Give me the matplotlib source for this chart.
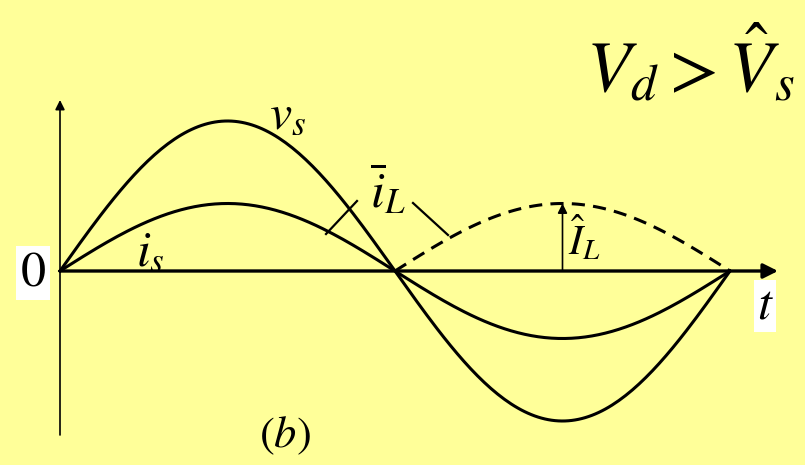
import numpy as np
import matplotlib.pyplot as plt

plt.rcParams['mathtext.fontset'] = 'stix'
plt.rcParams['font.family'] = 'Liberation Serif'

# waveform amplitudes (relative to v_s peak)
vs_amp = 1.0
is_amp = 0.45
theta = np.linspace(0, 2 * np.pi, 200)
vs = vs_amp * np.sin(theta)
i_s = is_amp * np.sin(theta)
theta_neg = np.linspace(np.pi, 2 * np.pi, 100)
il_dash = -is_amp * np.sin(theta_neg)

bg = '#ffff99'

def main():
    fig = plt.figure(figsize=(8.05, 4.65), dpi=100, facecolor=bg)
    ax = fig.add_axes([0, 0, 1, 1])
    ax.set_facecolor(bg)
    sx = 335 / np.pi   # px per rad
    sy = 150.0         # px per unit
    ax.set_xlim(-60 / sx, (805 - 60) / sx)
    ax.set_ylim(-(465 - 271) / sy, 271 / sy)
    ax.axis('off')

    lw = 2.2
    ax.plot(theta, vs, color='black', lw=lw)
    ax.plot(theta, i_s, color='black', lw=lw)
    ax.plot(theta_neg, il_dash, color='black', lw=lw, dashes=(4.3, 2.7))

    # axes
    ax.annotate('', xy=(778 / sx - 60 / sx, 0), xytext=(0, 0),
                arrowprops=dict(arrowstyle='-|>', lw=2.4, color='black',
                                mutation_scale=22, shrinkA=0, shrinkB=0))
    ax.annotate('', xy=(0, (271 - 100) / sy), xytext=(0, -(435 - 271) / sy),
                arrowprops=dict(arrowstyle='-|>', lw=1.2, color='black',
                                mutation_scale=14, shrinkA=0, shrinkB=0))

    # peak arrow for I_L hat
    xp = 1.5 * np.pi
    ax.annotate('', xy=(xp, is_amp), xytext=(xp, 0),
                arrowprops=dict(arrowstyle='-|>', lw=1.2, color='black',
                                mutation_scale=14, shrinkA=0, shrinkB=0))

    def px(x, y):
        return (x - 60) / sx, (271 - y) / sy

    # leader lines
    ax.plot(*zip(px(326, 234), px(357, 201)), color='black', lw=1.6)
    ax.plot(*zip(px(413, 203), px(448, 235)), color='black', lw=1.6)

    ax.text(*px(33, 273), r'$\mathrm{0}$', fontsize=36, ha='center', va='center',
            bbox=dict(facecolor='white', edgecolor='none', pad=3))
    ax.text(*px(765, 306), r'$t$', fontsize=36, ha='center', va='center',
            bbox=dict(facecolor='white', edgecolor='none', pad=2))
    ax.text(*px(288, 116), r'$v_s$', fontsize=36, ha='center', va='center')
    ax.text(*px(150, 253), r'$i_s$', fontsize=36, ha='center', va='center')
    ax.text(*px(388, 190), r'$\overline{i}_L$', fontsize=36, ha='center', va='center')
    ax.text(*px(585, 238), r'$\hat{I}_L$', fontsize=30, ha='center', va='center')
    ax.text(*px(285, 436), r'$(b)$', fontsize=32, ha='center', va='center')
    ax.text(*px(690, 64), r'$V_d > \hat{V}_s$', fontsize=52, ha='center', va='center')

    fig.savefig('out.png', dpi=100, facecolor=bg)

if __name__ == "__main__":
    main()
